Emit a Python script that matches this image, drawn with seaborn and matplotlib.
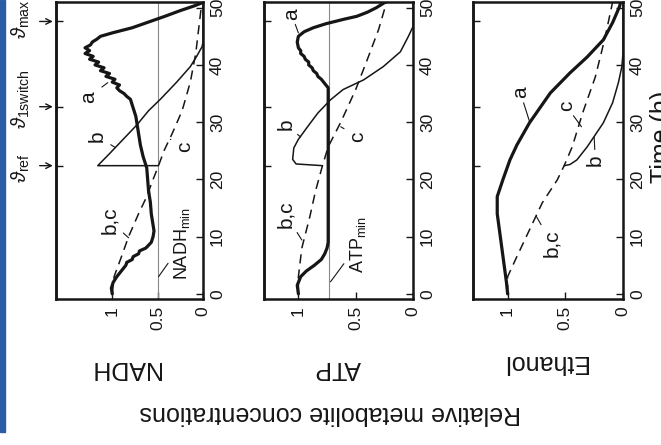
import numpy as np
import pandas as pd
import seaborn as sns
import matplotlib.pyplot as plt
from matplotlib.patches import Rectangle

# switching times (h)
theta_names = [r'$\vartheta_{\mathrm{ref}}$', r'$\vartheta_{\mathrm{1switch}}$', r'$\vartheta_{\mathrm{max}}$']
theta_times = [22.4, 32.7, 47.6]

# NADH panel: curve a (thick), b (thin, after switch), c (dashed)
nadh_a_t = [0, 1, 2, 3, 4, 5, 5.5, 6, 6.5, 7, 7.5, 8, 9, 10, 11, 12, 13, 14, 16, 18, 20, 22, 24, 26,
            28, 30, 31, 32, 33, 34, 34.5, 35, 35.5, 36, 36.5, 37, 37.5, 38, 38.5, 39, 39.5, 40, 40.5,
            41, 41.5, 42, 42.5, 43, 43.5, 44, 44.5, 45, 45.6, 46.5, 47.5, 48.5, 49.5, 50.3, 50.8]
nadh_a_v = [1.00, 1.01, 0.99, 0.95, 0.90, 0.85, 0.84, 0.78, 0.77, 0.71, 0.70, 0.63, 0.57, 0.55, 0.54,
            0.55, 0.56, 0.57, 0.58, 0.60, 0.61, 0.62, 0.66, 0.69, 0.71, 0.73, 0.74, 0.76, 0.78, 0.80,
            0.84, 0.87, 0.92, 0.95, 0.92, 1.00, 0.97, 1.07, 1.03, 1.13, 1.09, 1.19, 1.15, 1.25, 1.21,
            1.30, 1.25, 1.30, 1.24, 1.22, 1.17, 1.13, 1.00, 0.78, 0.60, 0.42, 0.25, 0.10, 0.02]
nadh_b_t = [22.4, 22.4, 24.5, 27, 29.5, 32, 34, 37, 39.7, 41.5, 43.2, 44, 51]
nadh_b_v = [0.49, 1.16, 1.03, 0.88, 0.73, 0.60, 0.47, 0.29, 0.14, 0.07, 0.01, 0.0, 0.0]
nadh_c_t = [0, 3, 6, 10, 14, 17, 20, 22.4, 25, 28, 32, 37, 42, 46, 50, 51]
nadh_c_v = [1.00, 0.98, 0.91, 0.82, 0.71, 0.62, 0.55, 0.49, 0.43, 0.34, 0.23, 0.14, 0.08, 0.05, 0.02, 0.0]
nadh_min = 0.5

# ATP panel
atp_a_t = [0, 1.5, 3, 4, 5, 6, 7, 8, 9, 36, 37, 37.5, 38, 38.5, 39, 39.5, 40, 40.5, 41, 41.5, 42,
           42.5, 43, 44, 45, 45.8, 46.5, 47.2, 48, 48.5, 49.2, 50, 51]
atp_a_v = [1.00, 1.01, 0.98, 0.93, 0.86, 0.80, 0.77, 0.75, 0.74, 0.74, 0.78, 0.80, 0.83, 0.84, 0.87,
           0.88, 0.91, 0.91, 0.94, 0.95, 0.98, 0.98, 1.00, 1.01, 1.00, 0.95, 0.87, 0.76, 0.60, 0.49,
           0.40, 0.32, 0.24]
atp_b_t = [22.4, 22.7, 23.5, 25.5, 27, 29.2, 31.6, 33.9, 35.7, 37.4, 39.7, 42.3, 45, 46.7, 51]
atp_b_v = [0.79, 1.02, 1.05, 1.04, 1.00, 0.92, 0.83, 0.72, 0.61, 0.43, 0.26, 0.11, 0.04, 0.0, 0.0]
atp_c_t = [0, 3, 8, 13.5, 18, 22.4, 25.7, 30, 35.7, 41.4, 46.2, 51]
atp_c_v = [1.00, 1.00, 0.97, 0.90, 0.85, 0.79, 0.74, 0.63, 0.50, 0.39, 0.30, 0.23]
atp_min = 0.73

# Ethanol panel
eth_a_t = [0, 2, 5, 8, 11, 14, 17, 20, 23.4, 26, 29.9, 35.1, 38.6, 41.4, 44.4, 47.4, 50.2, 51]
eth_a_v = [1.00, 1.01, 1.03, 1.05, 1.07, 1.09, 1.09, 1.04, 0.98, 0.92, 0.81, 0.63, 0.46, 0.31,
           0.17, 0.09, 0.03, 0.02]
eth_b_t = [22.4, 22.6, 23.4, 25.7, 29.9, 33.4, 36.9, 39.7, 42, 51]
eth_b_v = [0.51, 0.46, 0.40, 0.31, 0.17, 0.09, 0.04, 0.01, 0.0, 0.0]
eth_c_t = [0, 3, 6.5, 11.2, 15.9, 19.9, 22.4, 25.7, 31.6, 37.9, 44.4, 51]
eth_c_v = [1.00, 1.00, 0.92, 0.81, 0.70, 0.57, 0.51, 0.44, 0.35, 0.24, 0.16, 0.09]

panel_names = ['NADH', 'ATP', 'Ethanol']
time_ticks = [0, 10, 20, 30, 40, 50]
conc_ticks = [1, 0.5, 0]
conc_labels = ['1', '0.5', '0']

ink = '#161616'

sns.set_style('ticks')
plt.rcParams['font.family'] = ['Liberation Sans', 'DejaVu Sans']
plt.rcParams['mathtext.fontset'] = 'custom'
plt.rcParams['mathtext.rm'] = 'Liberation Sans'
plt.rcParams['mathtext.it'] = 'Liberation Sans:italic'

fig = plt.figure(figsize=(6.61, 4.45), dpi=100)
boxes = [(56, 147, 1.62), (264, 149, 1.30), (473, 150, 1.30)]
axes = []
for left, width, vmax in boxes:
    ax = fig.add_axes([left / 661, 1 - 299 / 445, width / 661, 297 / 445])
    ax.set_xlim(vmax, 0)
    ax.set_ylim(-0.9, 51)
    axes.append(ax)


def curve(ax, t, v, kind):
    if kind == 'a':
        sns.lineplot(x=v, y=t, ax=ax, sort=False, estimator=None, color=ink, lw=2.3)
    elif kind == 'b':
        sns.lineplot(x=v, y=t, ax=ax, sort=False, estimator=None, color=ink, lw=1.1)
    else:
        sns.lineplot(x=v, y=t, ax=ax, sort=False, estimator=None, color=ink, lw=1.1,
                     linestyle=(0, (6, 4)))


def tag(ax, text, xy, xytext, size=15):
    ax.annotate(text, xy=xy, xytext=xytext, rotation=90, ha='center', va='center',
                fontsize=size, color=ink,
                arrowprops=dict(arrowstyle='-', lw=0.8, color=ink, shrinkA=1, shrinkB=0))


ax1, ax2, ax3 = axes
ax1.axvline(nadh_min, color='#8a8a8a', lw=0.8)
ax2.axvline(atp_min, color='#8a8a8a', lw=0.8)

curve(ax1, nadh_c_t, nadh_c_v, 'c')
curve(ax1, nadh_b_t, nadh_b_v, 'b')
curve(ax1, nadh_a_t, nadh_a_v, 'a')
curve(ax2, atp_c_t, atp_c_v, 'c')
curve(ax2, atp_b_t, atp_b_v, 'b')
curve(ax2, atp_a_t, atp_a_v, 'a')
curve(ax3, eth_c_t, eth_c_v, 'c')
curve(ax3, eth_b_t, eth_b_v, 'b')
curve(ax3, eth_a_t, eth_a_v, 'a')

# curve tags
tag(ax1, 'a', (1.05, 36.9), (1.26, 34.4))
tag(ax1, 'b', (0.97, 25.6), (1.17, 27.6))
tag(ax1, 'c', (0.36, 27.0), (0.20, 25.7))
tag(ax1, 'b,c', (0.82, 9.8), (1.03, 12.8))
tag(ax1, r'NADH$_{\mathrm{min}}$', (0.49, 3.0), (0.23, 8.8), size=13)
tag(ax2, 'a', (1.00, 45.6), (1.06, 48.9))
tag(ax2, 'b', (0.98, 27.4), (1.11, 29.6))
tag(ax2, 'c', (0.63, 29.2), (0.48, 27.4))
tag(ax2, 'b,c', (0.97, 9.4), (1.11, 13.9))
tag(ax2, r'ATP$_{\mathrm{min}}$', (0.72, 2.1), (0.48, 8.6), size=13)
tag(ax3, 'a', (0.81, 30.1), (0.89, 35.2))
tag(ax3, 'c', (0.36, 29.2), (0.49, 32.8))
tag(ax3, 'b', (0.25, 27.4), (0.24, 23.4))
tag(ax3, 'b,c', (0.75, 13.5), (0.62, 8.9))

for ax in axes:
    ax.set_xticks(conc_ticks)
    ax.set_xticklabels(conc_labels, rotation=90, fontsize=12.5)
    ax.yaxis.tick_right()
    ax.set_yticks(time_ticks)
    ax.set_yticklabels([str(v) for v in time_ticks], rotation=90, va='center', fontsize=12.5)
    ax.tick_params(direction='in', length=5, width=1, color=ink, labelcolor=ink)
    ax.tick_params(axis='x', pad=5)
    ax.tick_params(axis='y', pad=5)
    ax.set_xlabel('')
    ax.set_ylabel('')
    for sp in ax.spines.values():
        sp.set_linewidth(1.8)
        sp.set_color(ink)
    sec = ax.secondary_yaxis('left')
    sec.set_yticks(theta_times)
    sec.tick_params(direction='in', length=5, width=1, color=ink, labelleft=False)
    sec.spines['left'].set_linewidth(1.8)
    sec.spines['left'].set_color(ink)

# switching-time markers beside the NADH panel
label_t = [22.0, 33.9, 48.0]
for name, th, lt in zip(theta_names, theta_times, label_t):
    ax1.annotate('', xy=(1.655, th), xytext=(1.80, th), annotation_clip=False,
                 arrowprops=dict(arrowstyle='->', lw=1, color=ink, shrinkA=0, shrinkB=0))
    ax1.text(2.01, lt, name, rotation=90, ha='center', va='center', fontsize=14.5,
             color=ink, clip_on=False)

# panel names and shared labels (figure is turned on its side)
name_pos = [(125, 368), (338, 368), (545, 362)]
for name, (px, py) in zip(panel_names, name_pos):
    fig.text(px / 661, 1 - py / 445, name, rotation=180, ha='center', va='center',
             fontsize=18, color=ink)
fig.text(330 / 661, 1 - 413 / 445, 'Relative metabolite concentrations', rotation=180,
         ha='center', va='center', fontsize=18, color=ink)
fig.text(650 / 661, 1 - 183 / 445, 'Time (h)', rotation=90, ha='left', va='bottom',
         fontsize=18, color=ink)

fig.patches.append(Rectangle((0, 1 - 432 / 445), 5 / 661, 432 / 445,
                             transform=fig.transFigure, color='#2c5ca6', zorder=5))

fig.savefig('out.png', dpi=100)
